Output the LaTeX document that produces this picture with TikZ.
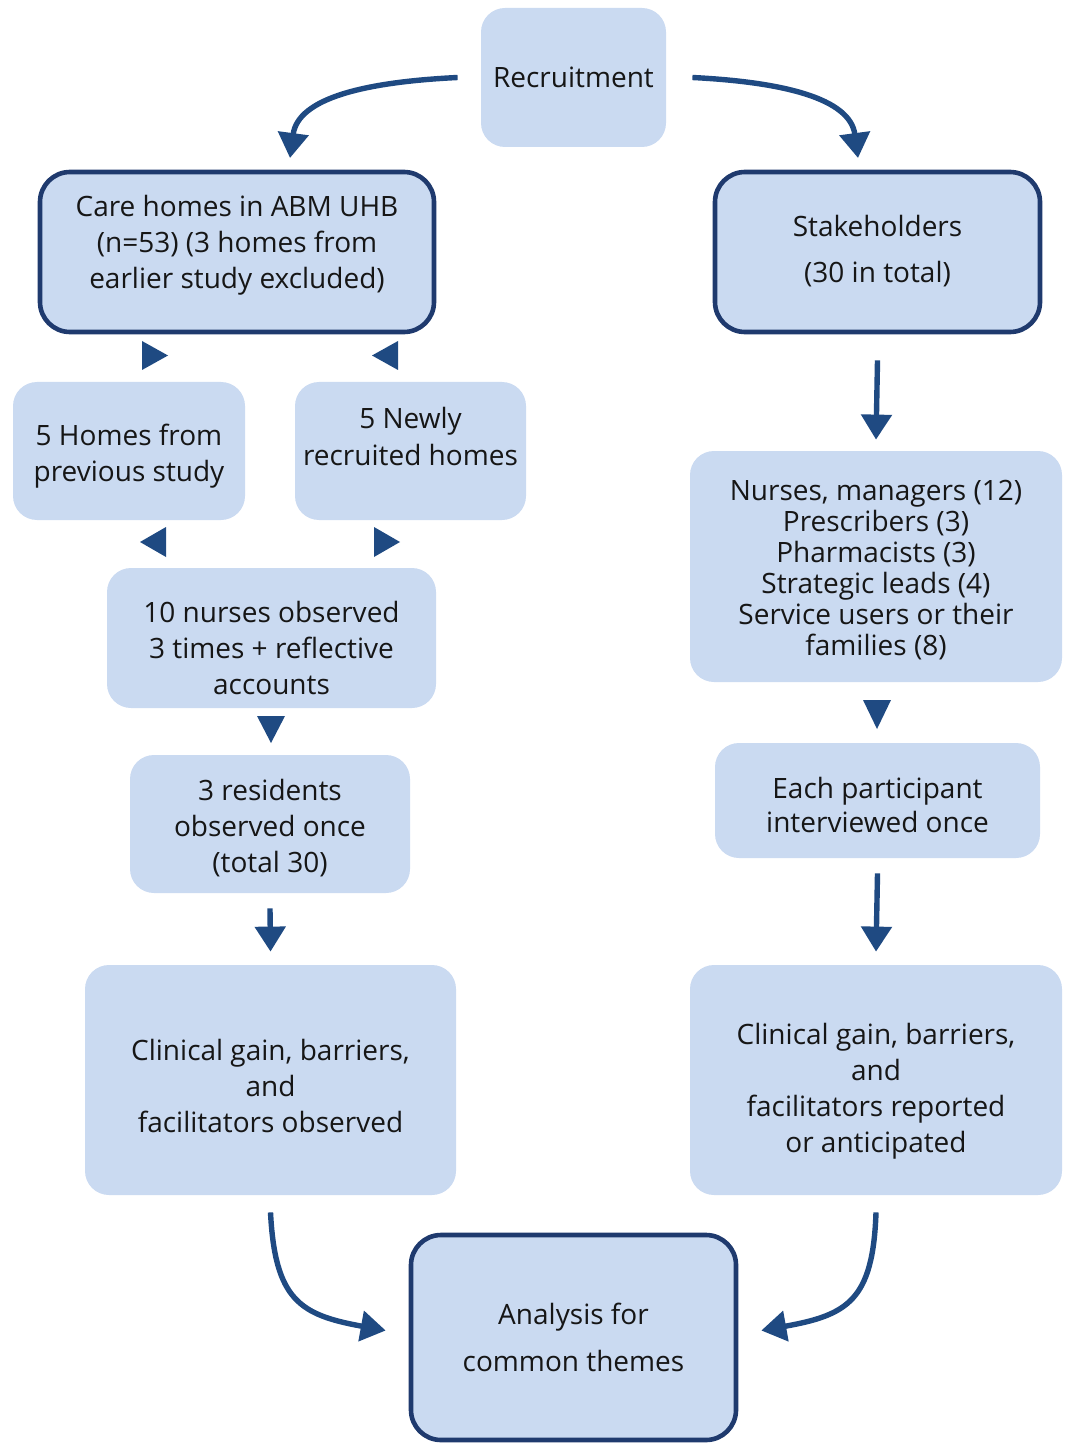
\documentclass[tikz,border=0pt]{standalone}
\usepackage{fontspec}
\setmainfont{Open Sans}
\usetikzlibrary{arrows.meta}
\definecolor{boxfill}{HTML}{CADAF1}
\definecolor{boxline}{HTML}{1F3A6E}
\definecolor{arrowcol}{HTML}{1F4A82}
\definecolor{txt}{HTML}{161616}
\begin{document}
\begin{tikzpicture}[x=0.5pt,y=-0.5pt,
 box/.style={rectangle, rounded corners=12pt, fill=boxfill, draw=none, inner sep=0pt},
 boldbox/.style={box, draw=boxline, line width=2.3pt, rounded corners=15pt},
 lbl/.style={align=center, inner sep=0pt, text=txt, font=\fontsize{14}{18}\selectfont},
 arr/.style={draw=arrowcol, line width=2.7pt, -{Triangle[length=12.5pt,width=15pt]}},
 tri/.style={fill=arrowcol, draw=none}
]
\useasboundingbox (0,0) rectangle (1068,1443);

% boxes
\node[box, minimum width=92.5pt, minimum height=69.5pt] (rec) at (573.5,77.5) {};
\node[boldbox, minimum width=197pt, minimum height=80pt] (care) at (237,252) {};
\node[boldbox, minimum width=162.5pt, minimum height=80pt] (stake) at (877.5,252) {};
\node[box, minimum width=116pt, minimum height=69pt] (prev) at (129,451) {};
\node[box, minimum width=115.5pt, minimum height=69pt] (new) at (410.5,451) {};
\node[box, minimum width=164.5pt, minimum height=70pt] (nurses) at (271.5,638) {};
\node[box, minimum width=140pt, minimum height=69pt] (res) at (270,824) {};
\node[box, minimum width=185.5pt, minimum height=115pt] (clinL) at (270.5,1080) {};
\node[box, minimum width=186pt, minimum height=115.5pt] (staff) at (876,566.5) {};
\node[box, minimum width=162.5pt, minimum height=57.5pt] (each) at (877.5,800.5) {};
\node[box, minimum width=186pt, minimum height=115pt] (clinR) at (876,1080) {};
\node[boldbox, minimum width=162.5pt, minimum height=102.5pt] (ana) at (573.5,1337.5) {};

% texts
\node[lbl] (recT) at (rec.center) {Recruitment};
\node[lbl] (careT) at ([yshift=3.5pt]care.center) {Care homes in ABM UHB\\(n=53) (3 homes from\\earlier study excluded)};
\node[lbl, font=\fontsize{14}{23}\selectfont] (stakeT) at ([yshift=0.5pt]stake.center) {Stakeholders\\(30 in total)};
\node[lbl] (prevT) at ([yshift=-2.75pt]prev.center) {5 Homes from\\previous study};
\node[lbl] (newT) at ([yshift=7.25pt]new.center) {5 Newly\\recruited homes};
\node[lbl] (nursesT) at ([yshift=-5pt]nurses.center) {10 nurses observed\\3 times + reflective\\accounts};
\node[lbl] (resT) at ([yshift=-2pt]res.center) {3 residents\\observed once\\(total 30)};
\node[lbl] (clinLT) at ([yshift=-2.75pt]clinL.center) {Clinical gain, barriers,\\and\\facilitators observed};
\node[lbl, font=\fontsize{14}{15.5}\selectfont] (staffT) at ([yshift=-2pt]staff.center) {Nurses, managers (12)\\Prescribers (3)\\Pharmacists (3)\\Strategic leads (4)\\Service users or their\\families (8)};
\node[lbl, font=\fontsize{14}{17}\selectfont] (eachT) at ([yshift=-2.25pt]each.center) {Each participant\\interviewed once};
\node[lbl] (clinRT) at ([yshift=-5.75pt]clinR.center) {Clinical gain, barriers,\\and\\facilitators reported\\or anticipated};
\node[lbl, font=\fontsize{14}{23.5}\selectfont] (anaT) at (ana.center) {Analysis for\\common themes};

% curved arrows from recruitment
\coordinate (recL) at ([xshift=-11.5pt]rec.west);
\coordinate (recR) at ([xshift=13pt]rec.east);
\coordinate (careIn) at (290,158);
\coordinate (stakeIn) at (858,158);
\draw[arr] (recL) .. controls (365,82) and (298,98) .. (careIn);
\draw[arr] (recR) .. controls (782,82) and (850,98) .. (stakeIn);

% standalone triangles
\fill[tri] (142,341) -- (168,355.5) -- (142,370) -- cycle;
\fill[tri] (398,341) -- (372,355.5) -- (398,370) -- cycle;
\fill[tri] (166,527) -- (140,542) -- (166,557) -- cycle;
\fill[tri] (374,527) -- (400,542) -- (374,557) -- cycle;
\fill[tri] (257,716) -- (285,716) -- (271,743) -- cycle;
\fill[tri] (863,700) -- (891,700) -- (877,729) -- cycle;

% straight arrows
\draw[arr] ([yshift=-13pt]stake.south) -- ([yshift=5.5pt]staff.north);
\draw[arr] ([yshift=-7.5pt]res.south) -- ([yshift=6.5pt]clinL.north);
\draw[arr] ([yshift=-7.5pt]each.south) -- ([yshift=6.5pt]clinR.north);

% bottom curved arrows
\coordinate (anaL) at ([xshift=-11.5pt,yshift=3.5pt]ana.west);
\coordinate (anaR) at ([xshift=11.5pt,yshift=3.5pt]ana.east);
\draw[arr] ([yshift=-8.5pt]clinL.south) .. controls (275,1300) and (300,1315) .. (anaL);
\draw[arr] ([yshift=-8.5pt]clinR.south) .. controls (873,1300) and (848,1315) .. (anaR);
\end{tikzpicture}
\end{document}
